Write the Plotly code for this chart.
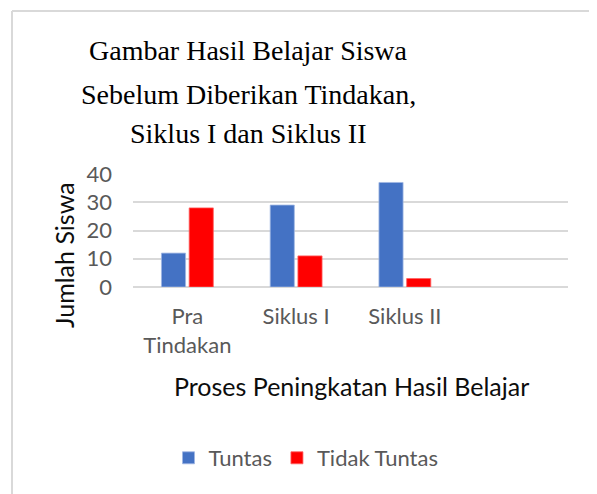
import plotly.graph_objects as go

categories = ["Pra Tindakan", "Siklus I", "Siklus II"]
tick_labels = ["Pra<br>Tindakan", "Siklus I", "Siklus II"]
tuntas = [12, 29, 37]
tidak_tuntas = [28, 11, 3]
title_lines = ["Gambar Hasil Belajar Siswa", "Sebelum Diberikan Tindakan,", "Siklus I dan Siklus II"]

OFF = 8  # default page body margin
W, H = 597 - OFF, 494 - OFF
# plot area in page px
L, R, T, B = 133, 568, 174, 287

def px(x):
    return (x - L) / (R - L)

def py(y):
    return (B - y) / (B - T)

SANS = "Lato, Carlito, Calibri, sans-serif"
SERIF = "Liberation Serif, Times New Roman, serif"

fig = go.Figure()
fig.add_trace(go.Bar(x=categories, y=tuntas, name="Tuntas",
                     marker=dict(color="#4472C4", line=dict(color="#9FB6E3", width=0.8))))
fig.add_trace(go.Bar(x=categories, y=tidak_tuntas, name="Tidak Tuntas",
                     marker=dict(color="#FF0000", line=dict(color="#FF6060", width=0.8))))

annotations = []
for line, yc in zip(title_lines, [51, 94, 134]):
    annotations.append(dict(text=line, x=px(248), y=py(yc), xref="paper", yref="paper",
                            xanchor="center", yanchor="middle", showarrow=False,
                            font=dict(family=SERIF, size=28, color="#000000")))
annotations.append(dict(text="Proses Peningkatan Hasil Belajar", x=px(351), y=py(386),
                        xref="paper", yref="paper", xanchor="center", yanchor="middle",
                        showarrow=False, font=dict(family=SANS, size=25, color="#0D0D0D")))
annotations.append(dict(text="Jumlah Siswa", x=px(64), y=py(255), xref="paper", yref="paper",
                        xanchor="center", yanchor="middle", textangle=-90, showarrow=False,
                        font=dict(family=SANS, size=25, color="#0D0D0D")))

shapes = [
    dict(type="line", xref="paper", yref="paper", x0=px(12), x1=px(600), y0=py(11), y1=py(11),
         line=dict(color="#D9D9D9", width=2)),
    dict(type="line", xref="paper", yref="paper", x0=px(12), x1=px(12), y0=py(11), y1=py(500),
         line=dict(color="#D9D9D9", width=2)),
]

fig.update_layout(
    width=W, height=H,
    margin=dict(l=L - OFF, r=597 - R, t=T - OFF, b=494 - B, pad=0),
    paper_bgcolor="white", plot_bgcolor="white",
    barmode="group", bargap=0.49, bargroupgap=0.13,
    showlegend=True,
    legend=dict(orientation="h", x=px(306), y=py(458), xanchor="center", yanchor="middle",
                font=dict(family=SANS, size=22, color="#595959"), itemwidth=30,
                bgcolor="rgba(0,0,0,0)"),
    annotations=annotations,
    shapes=shapes,
)
fig.update_xaxes(type="category", range=[-0.5, 3.5], tickvals=categories, ticktext=tick_labels,
                 showgrid=False, showline=False, ticks="", ticklabelstandoff=14,
                 tickfont=dict(family=SANS, size=22, color="#595959"))
fig.update_yaxes(range=[0, 40], dtick=10, showgrid=True, gridcolor="#D9D9D9", gridwidth=1.5,
                 zeroline=True, zerolinecolor="#D9D9D9", zerolinewidth=1.5, showline=False,
                 ticks="", ticklabelstandoff=20,
                 tickfont=dict(family=SANS, size=22, color="#595959"))

fig.write_html("out.html")
